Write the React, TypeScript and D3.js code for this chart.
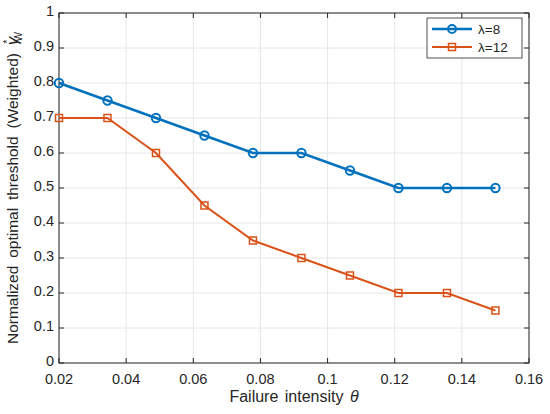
import React from "react";
import * as d3 from "d3";

const theta = [0.02, 0.03444, 0.04889, 0.06333, 0.07778, 0.09222, 0.10667, 0.12111, 0.13556, 0.15];
const lambda8 = [0.8, 0.75, 0.7, 0.65, 0.6, 0.6, 0.55, 0.5, 0.5, 0.5];
const lambda12 = [0.7, 0.7, 0.6, 0.45, 0.35, 0.3, 0.25, 0.2, 0.2, 0.15];
const xTicks = [0.02, 0.04, 0.06, 0.08, 0.1, 0.12, 0.14, 0.16];
const yTicks = [0, 0.1, 0.2, 0.3, 0.4, 0.5, 0.6, 0.7, 0.8, 0.9, 1];

const W = 550, H = 414;
const margin = { left: 59, right: 21, top: 13, bottom: 51 };
const blue = "#0072BD";
const orange = "#D95319";
const font = "'Liberation Sans', Arial, sans-serif";

export default function App() {
    const x = d3.scaleLinear().domain([0.02, 0.16]).range([margin.left, W - margin.right]);
    const y = d3.scaleLinear().domain([0, 1]).range([H - margin.bottom, margin.top]);
    const line = d3.line<number>()
        .x((_, i) => x(theta[i]))
        .y(d => y(d));
    const fmt = (v: number) => String(+v.toFixed(2));
    const x0 = margin.left, x1 = W - margin.right, y0 = H - margin.bottom, y1 = margin.top;

    return (
        <svg width={W} height={H} style={{ position: "absolute", left: 0, top: 0, background: "#fff" }} fontFamily={font}>
            <rect x={0} y={0} width={W} height={H} fill="#fff" />
            {/* grid */}
            {xTicks.map(t => (
                <line key={"gx" + t} x1={x(t)} x2={x(t)} y1={y0} y2={y1} stroke="#e6e6e6" strokeWidth={1} />
            ))}
            {yTicks.map(t => (
                <line key={"gy" + t} x1={x0} x2={x1} y1={y(t)} y2={y(t)} stroke="#e6e6e6" strokeWidth={1} />
            ))}
            {/* axes box */}
            <rect x={x0} y={y1} width={x1 - x0} height={y0 - y1} fill="none" stroke="#262626" strokeWidth={1} />
            {xTicks.map(t => (
                <g key={"tx" + t}>
                    <line x1={x(t)} x2={x(t)} y1={y0} y2={y0 - 5} stroke="#262626" />
                    <line x1={x(t)} x2={x(t)} y1={y1} y2={y1 + 5} stroke="#262626" />
                    <text x={x(t)} y={y0 + 21} textAnchor="middle" fontSize={14.5} fill="#262626">{fmt(t)}</text>
                </g>
            ))}
            {yTicks.map(t => (
                <g key={"ty" + t}>
                    <line x1={x0} x2={x0 + 5} y1={y(t)} y2={y(t)} stroke="#262626" />
                    <line x1={x1} x2={x1 - 5} y1={y(t)} y2={y(t)} stroke="#262626" />
                    <text x={x0 - 5} y={y(t) + 3} textAnchor="end" fontSize={14.5} fill="#262626">{fmt(t)}</text>
                </g>
            ))}
            {/* series */}
            <path d={line(lambda8) || ""} fill="none" stroke={blue} strokeWidth={2.5} />
            {lambda8.map((v, i) => (
                <circle key={"c" + i} cx={x(theta[i])} cy={y(v)} r={4.2} fill="none" stroke={blue} strokeWidth={2} />
            ))}
            <path d={line(lambda12) || ""} fill="none" stroke={orange} strokeWidth={2} />
            {lambda12.map((v, i) => (
                <rect key={"s" + i} x={x(theta[i]) - 3.5} y={y(v) - 3.5} width={7} height={7} fill="none" stroke={orange} strokeWidth={1.5} />
            ))}
            {/* labels */}
            <text x={(x0 + x1) / 2} y={y0 + 39} textAnchor="middle" fontSize={16} fill="#262626" wordSpacing={2}>
                Failure intensity <tspan fontStyle="italic">θ</tspan>
            </text>
            <text transform={`translate(18, ${(y0 + y1) / 2}) rotate(-90)`} textAnchor="middle" fontSize={15.5} fill="#262626" wordSpacing={3.5}>
                Normalized optimal threshold (Weighted)  <tspan fontStyle="italic" fontSize={17}>γ</tspan>
                <tspan fontSize={11} dy={-7} dx={-7}>*</tspan>
                <tspan fontSize={10} dy={11} dx={-2}>W</tspan>
            </text>
            {/* legend */}
            <g>
                <rect x={427} y={18} width={95} height={40} fill="#fff" stroke="#262626" strokeWidth={0.8} />
                <line x1={432} x2={472} y1={29} y2={29} stroke={blue} strokeWidth={2.5} />
                <circle cx={452} cy={29} r={4} fill="none" stroke={blue} strokeWidth={2} />
                <text x={478} y={34} fontSize={13.5} fill="#262626">λ=8</text>
                <line x1={432} x2={472} y1={47} y2={47} stroke={orange} strokeWidth={2} />
                <rect x={448.5} y={43.5} width={7} height={7} fill="none" stroke={orange} strokeWidth={1.5} />
                <text x={478} y={52} fontSize={13.5} fill="#262626">λ=12</text>
            </g>
        </svg>
    );
}
